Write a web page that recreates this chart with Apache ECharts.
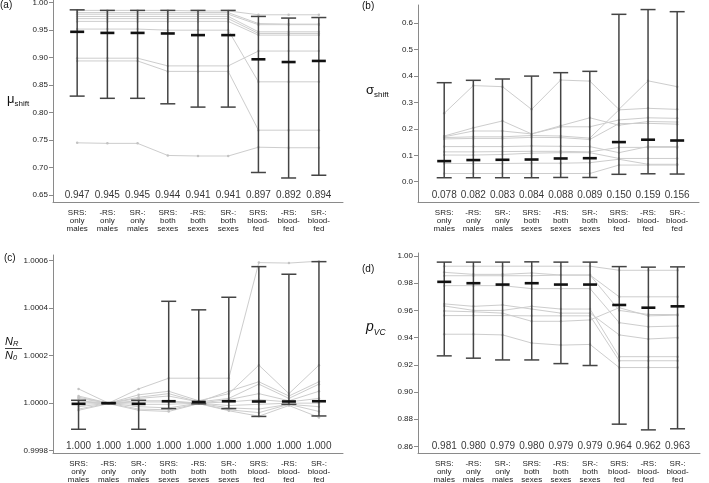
<!DOCTYPE html>
<html><head><meta charset="utf-8">
<script src="https://cdn.jsdelivr.net/npm/echarts@6/dist/echarts.min.js"></script>
<style>html,body{margin:0;padding:0;background:#fff}#c{width:709px;height:483px}</style>
</head><body><div id="c"></div>
<script>
// ---------- data ----------
const categories = ['SRS:\nonly\nmales','-RS:\nonly\nmales','SR-:\nonly\nmales','SRS:\nboth\nsexes','-RS:\nboth\nsexes','SR-:\nboth\nsexes','SRS:\nblood-\nfed','-RS:\nblood-\nfed','SR-:\nblood-\nfed'];

// (a) mu_shift
const muTicks = [0.65,0.70,0.75,0.80,0.85,0.90,0.95,1.00];
const muMean  = [0.947,0.945,0.945,0.944,0.941,0.941,0.897,0.892,0.894];
const muLower = [0.830,0.826,0.826,0.816,0.810,0.810,0.691,0.681,0.686];
const muUpper = [0.987,0.986,0.986,0.986,0.986,0.986,0.975,0.972,0.973];
const muLines = [
  [0.986,0.986,0.986,0.986,0.985,0.985,0.978,0.978,0.978],
  [0.982,0.982,0.982,0.982,0.982,0.982,0.962,0.961,0.961],
  [0.979,0.979,0.979,0.979,0.979,0.979,0.960,0.960,0.960],
  [0.975,0.975,0.975,0.975,0.975,0.975,0.947,0.947,0.947],
  [0.971,0.971,0.971,0.971,0.971,0.971,0.944,0.944,0.944],
  [0.966,0.966,0.966,0.966,0.966,0.966,0.941,0.941,0.941],
  [0.952,0.952,0.952,0.950,0.950,0.950,0.856,0.856,0.856],
  [0.899,0.899,0.899,0.885,0.885,0.885,0.912,0.912,0.912],
  [0.894,0.894,0.894,0.875,0.875,0.875,0.768,0.768,0.768],
  [0.745,0.744,0.744,0.722,0.721,0.721,0.737,0.736,0.736]
];

// (b) sigma_shift
const sgTicks = [0.0,0.1,0.2,0.3,0.4,0.5,0.6];
const sgMean  = [0.078,0.082,0.083,0.084,0.088,0.089,0.150,0.159,0.156];
const sgLower = [0.015,0.015,0.015,0.015,0.016,0.016,0.028,0.030,0.029];
const sgUpper = [0.375,0.384,0.389,0.400,0.413,0.418,0.634,0.652,0.644];
const sgLines = [
  [0.259,0.364,0.360,0.274,0.385,0.381,0.274,0.382,0.360],
  [0.173,0.204,0.230,0.181,0.212,0.242,0.214,0.228,0.226],
  [0.170,0.192,0.192,0.181,0.208,0.208,0.234,0.242,0.240],
  [0.167,0.170,0.170,0.175,0.173,0.165,0.272,0.278,0.274],
  [0.162,0.164,0.164,0.168,0.167,0.160,0.220,0.221,0.218],
  [0.133,0.133,0.133,0.135,0.134,0.133,0.110,0.133,0.133],
  [0.113,0.113,0.114,0.115,0.115,0.113,0.130,0.130,0.130],
  [0.101,0.101,0.103,0.108,0.110,0.110,0.088,0.088,0.088],
  [0.069,0.069,0.069,0.070,0.070,0.072,0.085,0.066,0.066],
  [0.031,0.031,0.031,0.031,0.031,0.031,0.063,0.063,0.063]
];

// (c) N_R / N_0
const nrTicks = [0.9998,1.0000,1.0002,1.0004,1.0006];
const nrMean  = [0.999997,1.000000,0.999997,1.000008,1.000005,1.000008,1.000007,1.000007,1.000008];
const nrLower = [0.999890,0.999998,0.999890,0.999977,0.999997,0.999977,0.999944,0.999995,0.999946];
const nrUpper = [1.000012,1.000002,1.000012,1.000429,1.000393,1.000446,1.000575,1.000543,1.000596];
const nrLines = [
  [1.000060,1.000000,1.000060,1.000105,1.000105,1.000105,1.000592,1.000590,1.000598],
  [1.000030,1.000000,1.000035,1.000050,1.000010,1.000040,1.000160,1.000040,1.000160],
  [1.000025,1.000000,1.000025,1.000040,1.000005,1.000050,1.000090,1.000030,1.000090],
  [1.000020,1.000000,1.000020,1.000030,1.000005,1.000020,1.000080,1.000020,1.000080],
  [1.000010,1.000000,1.000010,1.000010,1.000000,1.000015,1.000040,1.000010,1.000050],
  [1.000005,1.000000,1.000005,1.000005,1.000000,1.000005,1.000015,1.000005,1.000020],
  [0.999995,1.000000,0.999995,0.999995,1.000000,0.999990,0.999995,1.000000,1.000000],
  [0.999985,1.000000,0.999985,0.999980,1.000000,0.999980,0.999975,0.999995,0.999985],
  [0.999975,1.000000,0.999975,0.999972,0.999998,0.999972,0.999960,0.999995,0.999965],
  [0.999970,0.999998,0.999970,0.999965,0.999998,0.999968,0.999945,0.999990,0.999940]
];

// (d) p_VC
const pvTicks = [0.86,0.88,0.90,0.92,0.94,0.96,0.98,1.00];
const pvMean  = [0.981,0.980,0.979,0.980,0.979,0.979,0.964,0.962,0.963];
const pvLower = [0.9266,0.9249,0.9236,0.9236,0.9209,0.9195,0.8764,0.8722,0.8730];
const pvUpper = [0.9955,0.9955,0.9955,0.9957,0.9955,0.9955,0.9922,0.9918,0.9920];
const pvLines = [
  [0.9925,0.9925,0.9925,0.9925,0.9925,0.9925,0.9895,0.9895,0.9895],
  [0.9880,0.9865,0.9865,0.9875,0.9860,0.9860,0.9700,0.9700,0.9700],
  [0.9855,0.9855,0.9855,0.9855,0.9860,0.9860,0.9600,0.9570,0.9570],
  [0.9782,0.9782,0.9782,0.9760,0.9760,0.9760,0.9510,0.9480,0.9485],
  [0.9648,0.9630,0.9640,0.9610,0.9580,0.9580,0.9420,0.9390,0.9400],
  [0.9633,0.9600,0.9600,0.9630,0.9610,0.9610,0.9260,0.9260,0.9260],
  [0.9596,0.9590,0.9580,0.9520,0.9520,0.9530,0.9620,0.9560,0.9565],
  [0.9562,0.9562,0.9562,0.9560,0.9560,0.9560,0.9230,0.9230,0.9230],
  [0.9425,0.9425,0.9420,0.9360,0.9345,0.9350,0.9180,0.9180,0.9180]
];

// ---------- rendering ----------
const FONT = '"Liberation Sans Narrow","Liberation Sans",Arial,sans-serif';
const FONT2 = '"Liberation Sans",Arial,sans-serif';
const AXIS_COLOR = '#8a8a8a';
const TEXT_COLOR = '#222';

const panels = [
  {grid:{left:53,top:0,width:290,height:202}, x:[-0.8,8.8], y:[0.6373,1.0049], ticks:muTicks, dec:2,
   mean:muMean, lower:muLower, upper:muUpper, lines:muLines},
  {grid:{left:418,top:5,width:281,height:197}, x:[-0.9,8.75], y:[-0.0769,0.6693], ticks:sgTicks, dec:1,
   mean:sgMean, lower:sgLower, upper:sgUpper, lines:sgLines},
  {grid:{left:53,top:255,width:290,height:198}, x:[-0.85,8.8], y:[0.99979,1.000624], ticks:nrTicks, dec:4,
   mean:nrMean, lower:nrLower, upper:nrUpper, lines:nrLines},
  {grid:{left:418,top:253,width:282,height:200}, x:[-0.9,8.77], y:[0.8552,1.0022], ticks:pvTicks, dec:2,
   mean:pvMean, lower:pvLower, upper:pvUpper, lines:pvLines}
];

function errorBar(params, api) {
  const x = api.value(0), lo = api.value(1), hi = api.value(2), mn = api.value(3);
  const pLo = api.coord([x, lo]), pHi = api.coord([x, hi]), pMn = api.coord([x, mn]);
  const hw = 7.5, mw = 7;
  const st = {stroke:'#444', lineWidth:1.5};
  return {type:'group', children:[
    {type:'line', shape:{x1:pLo[0], y1:pLo[1], x2:pHi[0], y2:pHi[1]}, style:st},
    {type:'line', shape:{x1:pHi[0]-hw, y1:pHi[1], x2:pHi[0]+hw, y2:pHi[1]}, style:st},
    {type:'line', shape:{x1:pLo[0]-hw, y1:pLo[1], x2:pLo[0]+hw, y2:pLo[1]}, style:st},
    {type:'line', shape:{x1:pMn[0]-mw, y1:pMn[1], x2:pMn[0]+mw, y2:pMn[1]}, style:{stroke:'#111', lineWidth:2.6}}
  ]};
}

const grids = [], xAxes = [], yAxes = [], series = [];
panels.forEach((p, k) => {
  grids.push(Object.assign({containLabel:false, outerBoundsMode:'none'}, p.grid));
  xAxes.push({
    type:'value', gridIndex:k, min:p.x[0], max:p.x[1], splitLine:{show:false},
    axisLine:{show:true, onZero:false, lineStyle:{color:AXIS_COLOR, width:1}},
    axisTick:{show:false},
    axisLabel:{customValues:[0,1,2,3,4,5,6,7,8], formatter:v => categories[Math.round(v)],
      fontFamily:FONT, fontSize:8, lineHeight:7.8, color:TEXT_COLOR, margin:7}
  });
  yAxes.push({
    type:'value', gridIndex:k, min:p.y[0], max:p.y[1], splitLine:{show:false},
    axisLine:{show:true, onZero:false, lineStyle:{color:AXIS_COLOR, width:1}},
    axisTick:{show:true, customValues:p.ticks, length:4, lineStyle:{color:AXIS_COLOR}},
    axisLabel:{customValues:p.ticks, formatter:v => v.toFixed(p.dec),
      fontFamily:FONT, fontSize:8, color:TEXT_COLOR, margin:5}
  });
  p.lines.forEach(line => {
    series.push({type:'line', xAxisIndex:k, yAxisIndex:k, z:1, silent:true, animation:false,
      data: line.map((v, i) => [i, v]),
      symbol:'circle', symbolSize:2.5, showSymbol:true,
      lineStyle:{color:'#cdcdcd', width:1}, itemStyle:{color:'#c2c2c2'}});
  });
  series.push({type:'custom', xAxisIndex:k, yAxisIndex:k, z:3, animation:false,
    renderItem:errorBar, encode:{x:0, y:[1,2,3]},
    data: p.mean.map((m, i) => [i, p.lower[i], p.upper[i], m])});
  series.push({type:'scatter', xAxisIndex:k, yAxisIndex:k, z:4, animation:false, symbolSize:0, silent:true,
    data: p.mean.map((m, i) => [i, p.y[0], m]),
    label:{show:true, position:'top', distance:1.5, formatter:q => q.value[2].toFixed(3),
      fontFamily:FONT, fontSize:10, color:'#000'}});
});

const graphic = [
  {type:'text', left:0, top:0, style:{text:'(a)', font:'10px ' + FONT2, fill:'#111'}},
  {type:'text', left:362, top:1, style:{text:'(b)', font:'10px ' + FONT2, fill:'#111'}},
  {type:'text', left:4, top:253, style:{text:'(c)', font:'10px ' + FONT2, fill:'#111'}},
  {type:'text', left:362, top:264, style:{text:'(d)', font:'10px ' + FONT2, fill:'#111'}},
  {type:'text', left:7, top:93, style:{text:'{a|μ}{b|shift}', fill:'#111',
    rich:{a:{fontSize:13, fontFamily:FONT2, lineHeight:14, verticalAlign:'bottom'}, b:{fontSize:8, fontFamily:FONT2, verticalAlign:'bottom', padding:[0,0,-2,0]}}}},
  {type:'text', left:366, top:84, style:{text:'{a|σ}{b|shift}', fill:'#111',
    rich:{a:{fontSize:13, fontFamily:FONT2, lineHeight:14, verticalAlign:'bottom'}, b:{fontSize:8, fontFamily:FONT2, verticalAlign:'bottom', padding:[0,0,-2,0]}}}},
  {type:'text', left:5, top:336, style:{text:'{a|N}{b|R}', fill:'#111',
    rich:{a:{fontSize:11, fontFamily:FONT2, fontStyle:'italic', lineHeight:11, verticalAlign:'bottom'}, b:{fontSize:7.5, fontFamily:FONT2, fontStyle:'italic', verticalAlign:'bottom', padding:[0,0,-1,0]}}}},
  {type:'line', shape:{x1:5, y1:348.5, x2:22, y2:348.5}, style:{stroke:'#111', lineWidth:0.8}},
  {type:'text', left:5, top:350, style:{text:'{a|N}{b|0}', fill:'#111',
    rich:{a:{fontSize:11, fontFamily:FONT2, fontStyle:'italic', lineHeight:11, verticalAlign:'bottom'}, b:{fontSize:7.5, fontFamily:FONT2, fontStyle:'italic', verticalAlign:'bottom', padding:[0,0,-1,0]}}}},
  {type:'text', left:366, top:320, style:{text:'{a|p}{b|VC}', fill:'#111',
    rich:{a:{fontSize:14, fontFamily:FONT2, fontStyle:'italic', lineHeight:14, verticalAlign:'bottom'}, b:{fontSize:8.5, fontFamily:FONT2, fontStyle:'italic', verticalAlign:'bottom', padding:[0,0,-3,0]}}}}
];

const chart = echarts.init(document.getElementById('c'), null, {renderer:'canvas'});
chart.setOption({animation:false, backgroundColor:'#fff', grid:grids, xAxis:xAxes, yAxis:yAxes, series, graphic});
</script></body></html>
